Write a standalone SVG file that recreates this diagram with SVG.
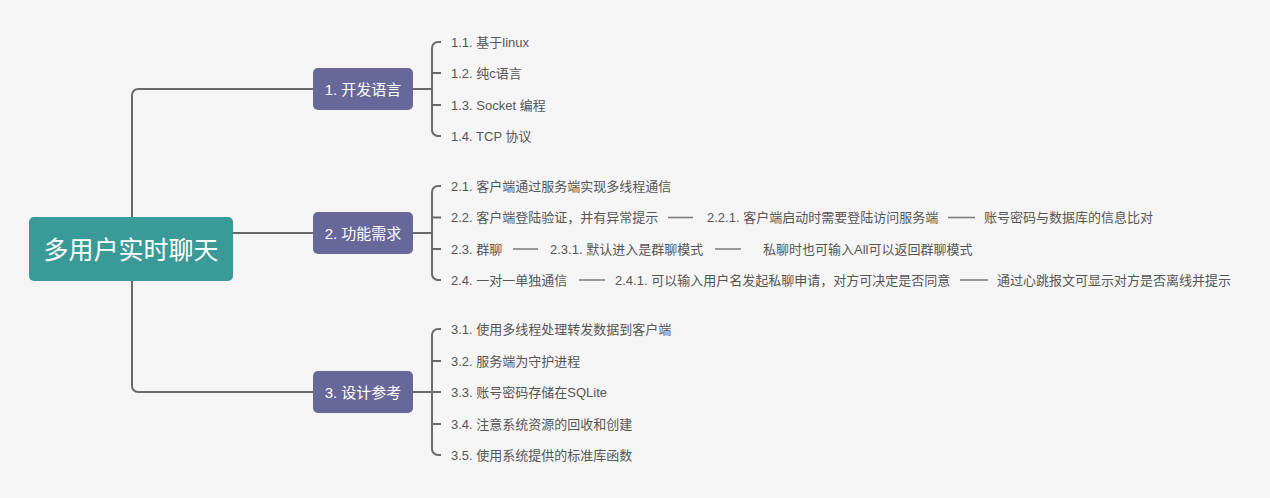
<svg xmlns="http://www.w3.org/2000/svg" width="1270" height="498" viewBox="0 0 1270 498">
<style>
.bg{fill:#f5f5f5}
.conn{fill:none;stroke:#6a6a6a;stroke-width:2}
.sep{fill:none;stroke:#7a7a7a;stroke-width:1.5}
.root{fill:#3a9a98}
.br{fill:#676899}
.rt{font-family:"Liberation Sans","Noto Sans CJK SC",sans-serif;font-size:25px;fill:#ffffff;text-anchor:middle}
.bt{font-family:"Liberation Sans","Noto Sans CJK SC",sans-serif;font-size:15px;fill:#ffffff;text-anchor:middle}
.ct{font-family:"Liberation Sans","Noto Sans CJK SC",sans-serif;font-size:13px;fill:#555555}
</style>
<rect class="bg" x="0" y="0" width="1270" height="498"/>
<g id="connectors">
<path class="conn" d="M313 89 H138 A6 6 0 0 0 132 95 V386 A6 6 0 0 0 138 392 H313"/>
<path class="conn" d="M233 233 H313"/>
<path class="conn" d="M413 89 H432"/>
<path class="conn" d="M441 42 H438 A6 6 0 0 0 432 48 V130 A6 6 0 0 0 438 136 H441 M432 73 H441 M432 105 H441"/>
<path class="conn" d="M413 233 H432"/>
<path class="conn" d="M441 186 H438 A6 6 0 0 0 432 192 V274 A6 6 0 0 0 438 280 H441 M432 217.5 H441 M432 249 H441"/>
<path class="conn" d="M413 392 H441"/>
<path class="conn" d="M441 329 H438 A6 6 0 0 0 432 335 V449 A6 6 0 0 0 438 455 H441 M432 361 H441 M432 424 H441"/>
<path class="sep" d="M668 217.5 H693 M948 217.5 H975"/>
<path class="sep" d="M513 249 H538 M715 249 H741"/>
<path class="sep" d="M579 280 H605 M960 280 H988"/>
</g>
<g id="root">
<rect class="root" x="29" y="217" width="204" height="64" rx="5"/>
<text class="rt" x="131" y="259">多用户实时聊天</text>
</g>
<g id="b1">
<rect class="br" x="313" y="68" width="100" height="42" rx="5"/>
<text class="bt" x="363" y="95">1. 开发语言</text>
</g>
<g id="b2">
<rect class="br" x="313" y="212" width="100" height="42" rx="5"/>
<text class="bt" x="363" y="238.5">2. 功能需求</text>
</g>
<g id="b3">
<rect class="br" x="313" y="371" width="100" height="42" rx="5"/>
<text class="bt" x="363" y="397.5">3. 设计参考</text>
</g>
<g id="c11"><text class="ct" x="451" y="46.5">1.1. 基于linux</text></g>
<g id="c12"><text class="ct" x="451" y="77.5">1.2. 纯c语言</text></g>
<g id="c13"><text class="ct" x="451" y="109.5">1.3. Socket 编程</text></g>
<g id="c14"><text class="ct" x="451" y="140.5">1.4. TCP 协议</text></g>
<g id="c21"><text class="ct" x="451" y="190.5">2.1. 客户端通过服务端实现多线程通信</text></g>
<g id="c22"><text class="ct" x="451" y="222">2.2. 客户端登陆验证，并有异常提示</text></g>
<g id="c221"><text class="ct" x="707" y="222">2.2.1. 客户端启动时需要登陆访问服务端</text></g>
<g id="c2211"><text class="ct" x="984" y="222">账号密码与数据库的信息比对</text></g>
<g id="c23"><text class="ct" x="451" y="253.5">2.3. 群聊</text></g>
<g id="c231"><text class="ct" x="550" y="253.5">2.3.1. 默认进入是群聊模式</text></g>
<g id="c2311"><text class="ct" x="763" y="253.5">私聊时也可输入All可以返回群聊模式</text></g>
<g id="c24"><text class="ct" x="451" y="284.5">2.4. 一对一单独通信</text></g>
<g id="c241"><text class="ct" x="615" y="284.5">2.4.1. 可以输入用户名发起私聊申请，对方可决定是否同意</text></g>
<g id="c2411"><text class="ct" x="997" y="284.5">通过心跳报文可显示对方是否离线并提示</text></g>
<g id="c31"><text class="ct" x="451" y="333.5">3.1. 使用多线程处理转发数据到客户端</text></g>
<g id="c32"><text class="ct" x="451" y="365.5">3.2. 服务端为守护进程</text></g>
<g id="c33"><text class="ct" x="451" y="396.5">3.3. 账号密码存储在SQLite</text></g>
<g id="c34"><text class="ct" x="451" y="428.5">3.4. 注意系统资源的回收和创建</text></g>
<g id="c35"><text class="ct" x="451" y="459.5">3.5. 使用系统提供的标准库函数</text></g>
</svg>
